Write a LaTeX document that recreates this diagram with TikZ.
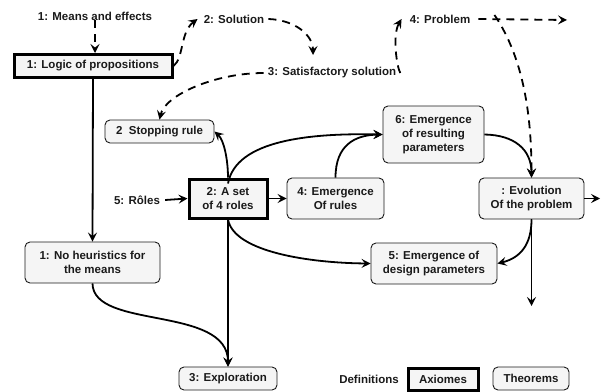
\documentclass[tikz,border=0pt]{standalone}
\usepackage{fontspec}
\setmainfont{Liberation Sans}
\usetikzlibrary{arrows.meta}
\definecolor{boxfill}{HTML}{F5F5F5}
\definecolor{ink}{HTML}{1A1A1A}
\begin{document}
\begin{tikzpicture}[x=1pt,y=-1pt,
  lbl/.style={font=\bfseries\fontsize{11.5}{14}\selectfont, text=ink, align=center, inner sep=0pt},
  rbox/.style={lbl, draw=ink, line width=0.9pt, fill=boxfill, rounded corners=5pt},
  tbox/.style={lbl, draw=black, line width=3pt, fill=boxfill},
  conn/.style={draw=black, line width=1.8pt, -{Stealth[length=9pt,width=9pt,inset=3.5pt]}},
  dconn/.style={conn, dash pattern=on 8pt off 6pt}]
\useasboundingbox (0,0) rectangle (601,391);

% text labels
\node[lbl] (means) at (95,16) {1: Means and effects};
\node[lbl] (solution) at (234,19) {2: Solution};
\node[lbl] (satis) at (332,73) {3: Satisfactory solution};
\node[lbl] (problem) at (440,19) {4: Problem};
\node[lbl] (roles) at (137,200) {5: Rôles};
\node[lbl] (defs) at (369,379) {Definitions};

% boxes
\node[tbox, minimum width=158pt, minimum height=23pt] (logic) at (93,66) {1: Logic of propositions};
\node[rbox, minimum width=109pt, minimum height=23pt] (stop) at (159.5,131.5) {2\ \ Stopping rule};
\node[rbox, minimum width=101pt, minimum height=57pt] (emres) at (433.5,134.5) {6: Emergence\\of resulting\\parameters};
\node[tbox, minimum width=78pt, minimum height=39pt] (aset) at (228,198.5) {2: A set\\of 4 roles};
\node[rbox, minimum width=97pt, minimum height=41pt] (emrules) at (335.5,198.5) {4: Emergence\\Of rules};
\node[rbox, minimum width=105pt, minimum height=41pt] (evol) at (531.5,198.5) {: Evolution\\Of the problem};
\node[rbox, minimum width=135pt, minimum height=41pt] (noheur) at (92.5,262.5) {1: No heuristics for\\the means};
\node[rbox, minimum width=126pt, minimum height=41pt] (emdes) at (434,263.5) {5: Emergence of\\design parameters};
\node[rbox, minimum width=98pt, minimum height=23pt] (explor) at (228,378.5) {3: Exploration};
\node[tbox, minimum width=70pt, minimum height=22pt] (axiomes) at (443,379) {Axiomes};
\node[rbox, minimum width=76pt, minimum height=23pt] (theorems) at (531,378.5) {Theorems};

% free ends
\coordinate (solend) at (313,55);
\coordinate (probend) at (567,20);
\coordinate (evolright) at (600,198.5);
\coordinate (evoldown) at (531.5,306);

% dashed connectors
\draw[dconn] (means.south) -- (means.south |- logic.north);
\draw[dconn] (logic.east) .. controls (184,58) and (180,32) .. ([xshift=-6pt]solution.west);
\draw[dconn] ([xshift=4pt]solution.east) .. controls (295,20) and (313,35) .. (solend);
\draw[dconn] ([xshift=-4pt]satis.west) .. controls (215,73) and (165,95) .. (stop.north);
\draw[dconn] ([xshift=4pt]satis.east) .. controls (397,68) and (392,35) .. ([xshift=-8pt]problem.west);
\draw[dconn] ([xshift=8pt]problem.east) -- (probend);
\draw[dconn] ([xshift=24pt,yshift=4pt]problem.east) .. controls (525,60) and (531.5,120) .. (evol.north);

% solid connectors
\draw[conn] (logic.south) -- (noheur.north);
\draw[conn] (noheur.south) .. controls (93,330) and (228,305) .. (explor.north);
\draw[conn] (aset.south) -- (explor.north);
\draw[conn] (roles.east) ++(5pt,0) -- (aset.west);
\draw[conn] (aset.east) -- (emrules.west);
\draw[conn] (aset.north) .. controls (228,160) and (224,140) .. (stop.east);
\draw[conn] ([yshift=-6pt]aset.north) .. controls (236,140) and (310,133) .. (emres.west);
\draw[conn] (emrules.north) .. controls (335.5,145) and (355,135) .. (emres.west);
\draw[conn] (aset.south) .. controls (234,252) and (310,263) .. (emdes.west);
\draw[conn] (emres.east) .. controls (515,135) and (531.5,150) .. (evol.north);
\draw[conn] (evol.east) -- (evolright);
\draw[conn] (evol.south) -- (evoldown);
\draw[conn] (evol.south) .. controls (531.5,245) and (520,258) .. (emdes.east);
\end{tikzpicture}
\end{document}
